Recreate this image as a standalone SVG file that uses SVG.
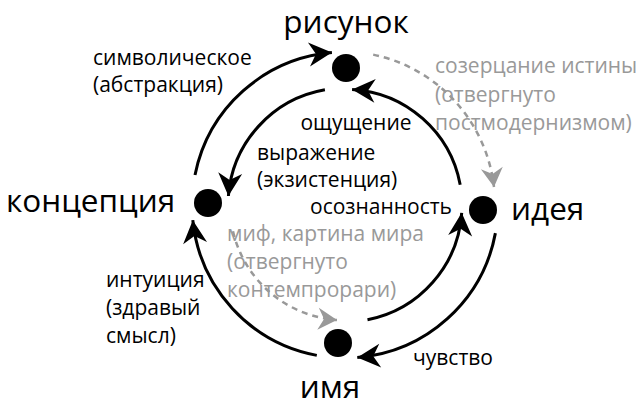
<svg xmlns="http://www.w3.org/2000/svg" width="640" height="409" viewBox="0 0 640 409">
<style>
.big{font-family:"Open Sans","Noto Sans",sans-serif;font-size:31.5px;fill:#000}
.sm{font-family:"Open Sans","Noto Sans",sans-serif;font-size:21px;fill:#000}
.gr{font-family:"Open Sans","Noto Sans",sans-serif;font-size:21px;fill:#999}
.arc{fill:none;stroke:#000;stroke-width:3}
.dash{fill:none;stroke:#999;stroke-width:2.5;stroke-dasharray:6 5}
.dot{fill:#000}
</style>
<defs>
<marker id="ah" markerUnits="userSpaceOnUse" viewBox="-24 -13 26 26" refX="0" refY="0" markerWidth="26" markerHeight="26" orient="auto">
<path d="M0,0 L-23,-12 L-16,0 L-23,12 Z" fill="#000"/>
</marker>
<marker id="ahg" markerUnits="userSpaceOnUse" viewBox="-24 -13 26 26" refX="0" refY="0" markerWidth="26" markerHeight="26" orient="auto">
<path d="M0,0 L-19,-11 L-13,0 L-19,11 Z" fill="#999"/>
</marker>
</defs>
<g id="connectors">
<path class="arc" d="M195,175 A153,153 0 0 1 331.9,52.6" marker-end="url(#ah)"/>
<path class="arc" d="M316.8,355.4 A153,153 0 0 1 192.8,220.2" marker-end="url(#ah)"/>
<path class="arc" d="M495.4,233.1 A153,153 0 0 1 357.3,357.5" marker-end="url(#ah)"/>
<path class="arc" d="M324.9,89.8 A117,117 0 0 0 228.4,196" marker-end="url(#ah)"/>
<path class="arc" d="M460.2,184.7 A117,117 0 0 0 352.1,89.5" marker-end="url(#ah)"/>
<path class="arc" d="M367.5,319.8 A117,117 0 0 0 461.7,212.8" marker-end="url(#ah)"/>
<path class="dash" d="M373.2,54.6 A153,153 0 0 1 494,187" marker-end="url(#ahg)"/>
<path class="dash" d="M233,231.3 A115,115 0 0 0 337,320" marker-end="url(#ahg)"/>
</g>
<g id="risunok"><circle class="dot" cx="346" cy="68" r="14"/><text class="big" x="346" y="33" text-anchor="middle">рисунок</text></g>
<g id="kontseptsiya"><circle class="dot" cx="208" cy="203" r="14"/><text class="big" x="6" y="212">концепция</text></g>
<g id="ideya"><circle class="dot" cx="483" cy="210" r="14"/><text class="big" x="511" y="220">идея</text></g>
<g id="imya"><circle class="dot" cx="338" cy="343" r="14"/><text class="big" x="330" y="398" text-anchor="middle">имя</text></g>
<g id="labels">
<text class="sm" x="93" y="65">символическое<tspan x="93" y="92">(абстракция)</tspan></text>
<text class="sm" x="356" y="130" text-anchor="middle">ощущение</text>
<text class="sm" x="257" y="160">выражение<tspan x="257" y="187">(экзистенция)</tspan></text>
<text class="sm" x="452" y="214" text-anchor="end">осознанность</text>
<text class="sm" x="106" y="287">интуиция<tspan x="106" y="315">(здравый</tspan><tspan x="106" y="343">смысл)</tspan></text>
<text class="sm" x="413" y="365">чувство</text>
<text class="gr" x="435" y="73">созерцание истины<tspan x="435" y="102">(отвергнуто</tspan><tspan x="435" y="130">постмодернизмом)</tspan></text>
<text class="gr" x="227" y="241">миф, картина мира<tspan x="227" y="269">(отвергнуто</tspan><tspan x="227" y="297">контемпрорари)</tspan></text>
</g>
</svg>
